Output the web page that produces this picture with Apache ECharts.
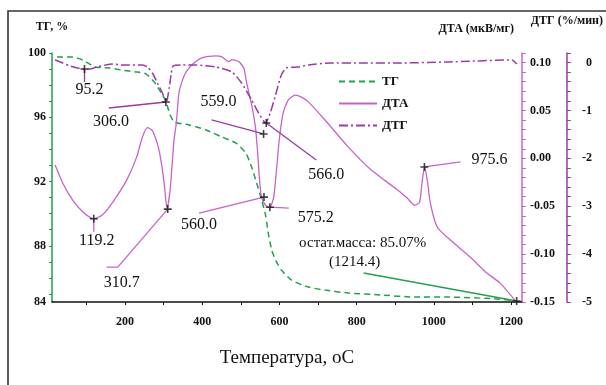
<!DOCTYPE html>
<html>
<head>
<meta charset="utf-8">
<script src="https://cdn.jsdelivr.net/npm/echarts@6/dist/echarts.min.js"></script>
<style>
html,body{margin:0;padding:0;background:#fff}
#chart{width:606px;height:385px}
</style>
</head>
<body>
<div id="chart"></div>
<script>
// ТГ, %
const tgTemp = [24, 65, 91, 122, 160, 191, 230, 255, 276, 289, 297, 307, 315, 328, 366, 410, 451, 487, 513, 528, 541, 554, 564, 572, 580, 590, 605, 631, 675, 718, 778, 862, 950, 1035, 1163, 1214];
const tgMass = [99.75, 99.75, 99.56, 99.13, 99.07, 98.94, 98.82, 98.69, 98.19, 97.70, 97.40, 96.95, 96.26, 95.70, 95.52, 95.21, 94.77, 94.40, 93.77, 92.90, 91.91, 90.85, 89.91, 88.67, 87.73, 87.11, 86.49, 85.87, 85.43, 85.24, 85.06, 84.94, 84.81, 84.81, 84.69, 84.56];

// ДТА, мкВ/мг
const dtaTemp = [19, 39, 65, 91, 119, 142, 168, 204, 230, 245, 258, 271, 281, 289, 297, 302, 309, 317, 322, 327, 333, 340, 351, 358, 374, 399, 435, 451, 469, 477, 495, 508, 515, 528, 538, 544, 549, 554, 564, 575, 585, 592, 600, 610, 623, 641, 657, 675, 718, 778, 837, 906, 932, 950, 963, 970, 976, 983, 991, 1009, 1042, 1094, 1138, 1171, 1214];
const dtaVal = [-0.007, -0.026, -0.044, -0.056, -0.063, -0.059, -0.046, -0.023, 0.001, 0.022, 0.032, 0.029, 0.019, 0.007, -0.012, -0.028, -0.053, -0.033, -0.007, 0.019, 0.037, 0.069, 0.084, 0.090, 0.098, 0.105, 0.107, 0.106, 0.101, 0.103, 0.101, 0.094, 0.079, 0.056, 0.032, 0.004, -0.025, -0.041, -0.049, -0.051, -0.041, -0.014, 0.021, 0.048, 0.061, 0.066, 0.064, 0.059, 0.040, 0.012, -0.012, -0.033, -0.042, -0.049, -0.046, -0.023, -0.009, -0.023, -0.047, -0.072, -0.085, -0.103, -0.120, -0.130, -0.150];

// ДТГ, %/мин
const dtgTemp = [19, 39, 57, 91, 110, 127, 168, 194, 245, 258, 271, 284, 297, 307, 315, 320, 325, 348, 384, 435, 477, 502, 528, 546, 564, 577, 590, 605, 618, 649, 675, 734, 821, 906, 1035, 1202, 1215];
const dtgVal = [0.054, -0.009, -0.071, -0.134, -0.134, -0.092, -0.030, -0.051, -0.051, -0.092, -0.218, -0.426, -0.635, -0.823, -0.510, -0.218, -0.071, -0.051, -0.051, -0.092, -0.197, -0.426, -0.781, -1.053, -1.261, -1.032, -0.677, -0.259, -0.113, -0.092, -0.051, -0.009, -0.009, -0.009, 0.012, 0.054, -0.030];

// отмеченные точки
const tgMarkT = [559.0, 560.0, 1214.4];
const tgMarkV = [94.96, 91.03, 84.56];
const dtaMarkT = [119.2, 310.7, 575.2, 975.6];
const dtaMarkV = [-0.063, -0.053, -0.051, -0.009];
const dtgMarkT = [95.2, 306.0, 566.0];
const dtgMarkV = [-0.134, -0.823, -1.261];
const residualMass = 85.07;
const residualTemp = 1214.4;

// подписи осей
const xTickLabels = [200, 400, 600, 800, 1000, 1200];
const tgMin = 84.5;
const tgTickLabels = [88, 92, 96, 100];
const dtaTickLabels = [-0.15, -0.10, -0.05, 0, 0.05, 0.10];
const dtgTickLabels = [-5, -4, -3, -2, -1, 0];

const GREEN = '#22a04a', PINK = '#c862c8', PURPLE = '#9b3aa5', INK = '#111';
const serif = '"Liberation Serif", "DejaVu Serif", serif';

const pairs = (xs, ys) => xs.map((x, i) => [x, ys[i]]);
const xTicks = [], tgTicks = [], dtaTicks = [], dtgTicks = [];
for (let t = 100; t <= 1200; t += 100) xTicks.push(t);
for (let v = 85; v <= 100; v++) tgTicks.push(v);
for (let v = -15; v <= 11; v++) dtaTicks.push(v / 100);
for (let v = -25; v <= 1; v++) dtgTicks.push(v / 5);

const cross = 'path://M4,0H6V4H10V6H6V10H4V6H0V4H4Z';

const chart = echarts.init(document.getElementById('chart'));

const axisName = {fontFamily: serif, fontSize: 12, fontWeight: 'bold', color: INK};
const tickFont = {fontFamily: serif, fontSize: 12, fontWeight: 'bold', color: INK};

chart.setOption({
  animation: false,
  backgroundColor: '#fff',
  grid: {left: 52, right: 81, top: 53, bottom: 83},
  legend: {
    orient: 'vertical', left: 333, top: 70,
    itemWidth: 38, itemHeight: 12, itemGap: 9,
    data: ['ТГ', 'ДТА', 'ДТГ'],
    itemStyle: {opacity: 0},
    textStyle: {fontFamily: serif, fontSize: 13, fontWeight: 'bold', color: INK}
  },
  xAxis: {
    type: 'value', min: 11, max: 1228,
    name: 'Температура, оС', nameLocation: 'middle', nameGap: 47,
    nameTextStyle: {fontFamily: serif, fontSize: 19, color: INK},
    axisLine: {onZero: false, lineStyle: {color: INK, width: 1.5}},
    axisTick: {customValues: xTicks, length: 3, lineStyle: {color: INK}},
    axisLabel: Object.assign({customValues: xTickLabels, margin: 14,
      formatter: v => String(v)}, tickFont),
    splitLine: {show: false}
  },
  yAxis: [
    {
      type: 'value', min: tgMin, max: 100, position: 'left',
      name: 'ТГ, %', nameGap: 20, nameTextStyle: axisName,
      axisLine: {show: true, lineStyle: {color: GREEN, width: 1.5}},
      axisTick: {show: true, customValues: tgTicks, length: 3, lineStyle: {color: GREEN}},
      axisLabel: Object.assign({customValues: [tgMin].concat(tgTickLabels), margin: 6,
        formatter: v => String(Math.floor(v))}, tickFont),
      splitLine: {show: false}
    },
    {
      type: 'value', min: -0.15, max: 0.11, position: 'right',
      name: 'ДТА (мкВ/мг)', nameGap: 18,
      nameTextStyle: Object.assign({align: 'right', padding: [0, 8, 0, 0]}, axisName),
      axisLine: {show: true, lineStyle: {color: PINK, width: 1.5}},
      axisTick: {show: true, customValues: dtaTicks, length: 4, lineStyle: {color: PINK}},
      axisLabel: Object.assign({customValues: dtaTickLabels, margin: 8,
        formatter: v => v.toFixed(2)}, tickFont),
      splitLine: {show: false}
    },
    {
      type: 'value', min: -5, max: 0.2, position: 'right', offset: 45,
      name: 'ДТГ (%/мин)', nameGap: 26,
      nameTextStyle: Object.assign({padding: [0, 0, 0, 0]}, axisName),
      axisLine: {show: true, lineStyle: {color: PURPLE, width: 1.5}},
      axisTick: {show: true, customValues: dtgTicks, length: 4, lineStyle: {color: PURPLE}},
      axisLabel: Object.assign({customValues: dtgTickLabels, margin: 25, align: 'right'}, tickFont),
      splitLine: {show: false}
    }
  ],
  series: [
    {name: 'ТГ', type: 'line', yAxisIndex: 0, data: pairs(tgTemp, tgMass), symbol: 'none', smooth: 0.2,
      itemStyle: {color: GREEN}, lineStyle: {color: GREEN, width: 1.5, type: [6, 4]}},
    {name: 'ДТА', type: 'line', yAxisIndex: 1, data: pairs(dtaTemp, dtaVal), symbol: 'none', smooth: 0.2,
      itemStyle: {color: PINK}, lineStyle: {color: PINK, width: 1.3}},
    {name: 'ДТГ', type: 'line', yAxisIndex: 2, data: pairs(dtgTemp, dtgVal), symbol: 'none', smooth: 0.2,
      itemStyle: {color: PURPLE}, lineStyle: {color: PURPLE, width: 1.5, type: [9, 3, 2, 3]}},
    {name: 'tgMarks', type: 'scatter', yAxisIndex: 0, data: pairs(tgMarkT, tgMarkV),
      symbol: cross, symbolSize: 8, itemStyle: {color: INK}, z: 5},
    {name: 'dtaMarks', type: 'scatter', yAxisIndex: 1, data: pairs(dtaMarkT, dtaMarkV),
      symbol: cross, symbolSize: 8, itemStyle: {color: INK}, z: 5},
    {name: 'dtgMarks', type: 'scatter', yAxisIndex: 2, data: pairs(dtgMarkT, dtgMarkV),
      symbol: cross, symbolSize: 8, itemStyle: {color: INK}, z: 5}
  ]
});

// выноски: смещения в пикселях от отметки
const noteLayout = {
  '559.0': {lead: [[-52, -14]], text: [-45, -32], color: PURPLE},
  '560.0': {lead: [[-65, 16]], text: [-65, 28], color: PINK},
  '119.2': {lead: [[0, 13]], text: [3, 22], color: PINK},
  '310.7': {lead: [[-50, 58], [-61, 58]], text: [-46, 74], color: PINK},
  '575.2': {lead: [[19, 1]], text: [46, 11], color: PINK},
  '975.6': {lead: [[36, -5]], text: [65, -7], color: PINK},
  '95.2': {lead: [[0, 13]], text: [5, 21], color: PURPLE},
  '306.0': {lead: [[-57, 6]], text: [-55, 20], color: PURPLE},
  '566.0': {lead: [[50, 37]], text: [60, 52], color: PURPLE}
};

const graphics = [{
  type: 'rect', silent: true,
  shape: {x: 8, y: 11, width: 700, height: 500},
  style: {fill: null, stroke: '#333', lineWidth: 1.6}
}];

function addNote(p, lay, text) {
  const pts = [p].concat(lay.lead.map(d => [p[0] + d[0], p[1] + d[1]]));
  graphics.push({type: 'polyline', silent: true, z: 4, shape: {points: pts},
    style: {stroke: lay.color, lineWidth: 1.3, fill: null}});
  graphics.push({type: 'text', silent: true, z: 6, style: {
    text: text, x: p[0] + lay.text[0], y: p[1] + lay.text[1],
    align: 'center', verticalAlign: 'middle', fill: INK,
    fontFamily: serif, fontSize: 16}});
}

[[3, tgMarkT, tgMarkV], [4, dtaMarkT, dtaMarkV], [5, dtgMarkT, dtgMarkV]].forEach(([si, ts, vs]) => {
  ts.forEach((t, i) => {
    const key = t.toFixed(1);
    if (!noteLayout[key]) return;
    const p = chart.convertToPixel({seriesIndex: si}, [t, vs[i]]);
    addNote(p, noteLayout[key], key);
  });
});

// остаточная масса
const rp = chart.convertToPixel({seriesIndex: 3}, [residualTemp, tgMarkV[2]]);
graphics.push({type: 'polyline', silent: true, z: 4,
  shape: {points: [rp, [rp[0] - 153, rp[1] - 28]]},
  style: {stroke: GREEN, lineWidth: 1.4, fill: null}});
graphics.push({type: 'text', silent: true, z: 6, style: {
  text: 'остат.масса: ' + residualMass.toFixed(2) + '%', x: rp[0] - 154, y: rp[1] - 58,
  align: 'center', verticalAlign: 'middle', fill: INK, fontFamily: serif, fontSize: 15}});
graphics.push({type: 'text', silent: true, z: 6, style: {
  text: '(' + residualTemp.toFixed(1) + ')', x: rp[0] - 162, y: rp[1] - 39,
  align: 'center', verticalAlign: 'middle', fill: INK, fontFamily: serif, fontSize: 15}});

chart.setOption({graphic: graphics});
window.addEventListener('resize', () => chart.resize());
</script>
</body>
</html>
